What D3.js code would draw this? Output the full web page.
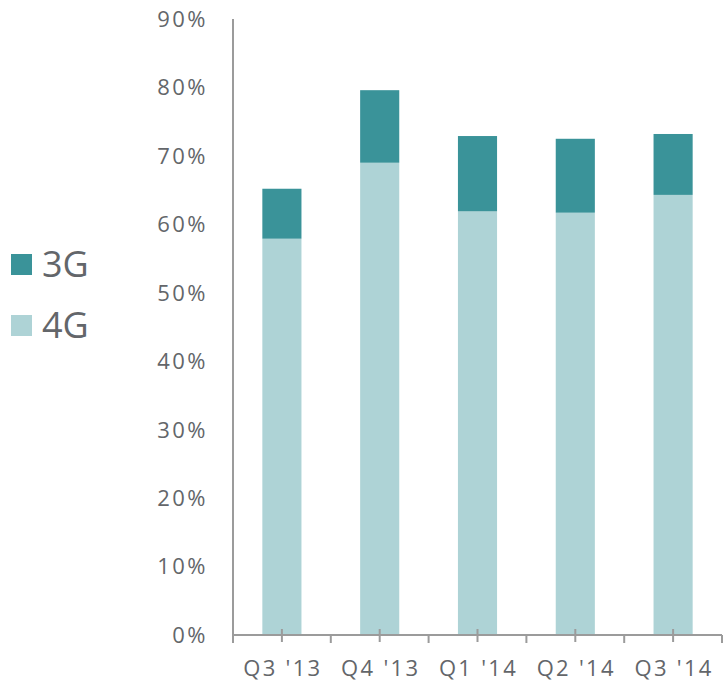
<!DOCTYPE html>
<html><head><meta charset="utf-8">
<script src="https://cdn.jsdelivr.net/npm/d3@7"></script>
<style>body{margin:0;background:#fff}svg{display:block}</style>
</head><body>
<svg id="c" width="723" height="683"></svg>
<script>
const categories = ["Q3 '13","Q4 '13","Q1 '14","Q2 '14","Q3 '14"];
const seriesNames = ["4G","3G"];
const values4G = [57.9, 69.0, 61.9, 61.7, 64.3];
const values3G = [7.3, 10.6, 11.0, 10.8, 8.9];
const yTicks = [0,10,20,30,40,50,60,70,80,90];
const colors = {"3G":"#3a9399","4G":"#aed3d6"};
const textColor = "#63666a";
const font = "'Open Sans', sans-serif";

const svg = d3.select("#c");
const mLeft = 233, mRight = 722, mTop = 19, mBottom = 635;
const x = d3.scaleBand().domain(categories).range([mLeft, mRight]).paddingInner(0.6).paddingOuter(0.3);
const xb = d3.scaleBand().domain(categories).range([mLeft, mRight]);
const y = d3.scaleLinear().domain([0, 90]).range([mBottom, mTop]);

const data = categories.map((c,i)=>({cat:c, "4G":values4G[i], "3G":values3G[i]}));
const stack = d3.stack().keys(seriesNames)(data);

svg.append("g").selectAll("g").data(stack).join("g")
  .attr("fill", d=>colors[d.key])
  .selectAll("rect").data(d=>d).join("rect")
  .attr("x", d=>x(d.data.cat))
  .attr("width", x.bandwidth())
  .attr("y", d=>y(d[1]))
  .attr("height", d=>y(d[0])-y(d[1]));

// y axis
const axisColor = "#9b9b9b";
svg.append("line").attr("x1",mLeft).attr("x2",mLeft).attr("y1",mTop).attr("y2",mBottom)
  .attr("stroke",axisColor).attr("stroke-width",2);
svg.append("g").selectAll("text").data(yTicks).join("text")
  .attr("x", 208).attr("y", d=>y(d)).attr("dy","0.36em")
  .attr("text-anchor","end").attr("fill",textColor)
  .attr("font-family",font).attr("font-size",22).attr("letter-spacing","2.5px")
  .text(d=>d+"%");

// x axis
svg.append("line").attr("x1",mLeft).attr("x2",mRight).attr("y1",mBottom).attr("y2",mBottom)
  .attr("stroke",axisColor).attr("stroke-width",2);
const boundaries = categories.map(c=>xb(c)).concat([mRight]);
svg.append("g").selectAll("line").data(boundaries).join("line")
  .attr("x1",d=>d).attr("x2",d=>d).attr("y1",mBottom).attr("y2",mBottom+8)
  .attr("stroke",axisColor).attr("stroke-width",2);
svg.append("g").selectAll("line").data(categories).join("line")
  .attr("x1",d=>xb(d)+xb.bandwidth()/2).attr("x2",d=>xb(d)+xb.bandwidth()/2)
  .attr("y1",mBottom-6).attr("y2",mBottom+7)
  .attr("stroke",axisColor).attr("stroke-width",2);
svg.append("g").selectAll("text").data(categories).join("text")
  .attr("x", d=>xb(d)+xb.bandwidth()/2+1).attr("y", 676)
  .attr("text-anchor","middle").attr("fill",textColor)
  .attr("font-family",font).attr("font-size",22).attr("letter-spacing","2.3px")
  .text(d=>d);

// legend
const legendItems = ["3G","4G"];
const lg = svg.append("g").selectAll("g").data(legendItems).join("g")
  .attr("transform",(d,i)=>`translate(11,${254+i*61})`);
lg.append("rect").attr("width",21).attr("height",21).attr("fill",d=>colors[d]);
lg.append("text").attr("x",31).attr("y",23).attr("fill",textColor)
  .attr("font-family",font).attr("font-size",36).text(d=>d);
</script>
</body></html>
